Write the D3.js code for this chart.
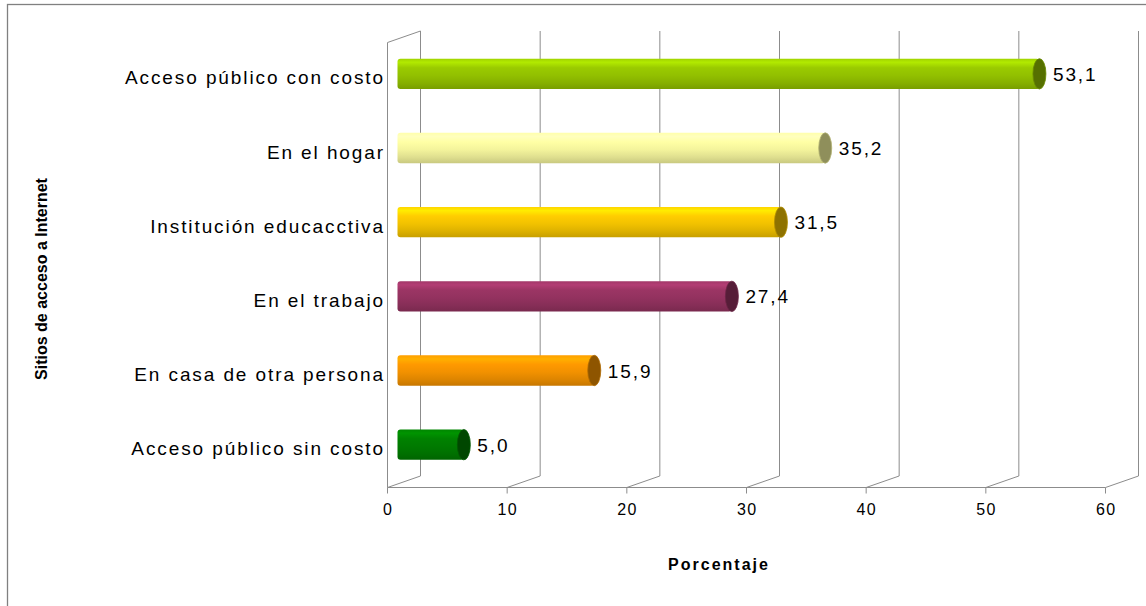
<!DOCTYPE html>
<html>
<head>
<meta charset="utf-8">
<script src="https://cdn.jsdelivr.net/npm/d3@7"></script>
<style>
  body { margin: 0; background: #fff; }
  text { font-family: "Liberation Sans", Arial, sans-serif; }
</style>
</head>
<body>
<div id="chart"></div>
<script>
// Data
const categories = ["Acceso público con costo", "En el hogar", "Institución educacctiva",
    "En el trabajo", "En casa de otra persona", "Acceso público sin costo"];
const values = [53.1, 35.2, 31.5, 27.4, 15.9, 5.0];
const ticks = [0, 10, 20, 30, 40, 50, 60];

// Bar colours
const palette = ["#92c000", "#f4f49c", "#f2c200", "#93325f", "#f29100", "#007a00"];

const width = 1146,
    height = 606;

// 3D depth offset
const dx = 33,
    dy = -11.5;

const svg = d3.select("#chart")
    .append("svg")
    .attr("width", width)
    .attr("height", height);

// outer frame
svg.append("rect")
    .attr("x", 7.5).attr("y", 4.5)
    .attr("width", 1150).attr("height", 620)
    .attr("fill", "none")
    .attr("stroke", "#808080")
    .attr("stroke-width", 1.3);

const x = d3.scaleLinear()
    .domain([0, 60])
    .range([387.5, 1105.5]);

const y = d3.scaleBand()
    .domain(categories)
    .range([42.5, 487.5])
    .padding(0);

const floorY = y.range()[1];
const topY = y.range()[0];
const grid = "#8c8c8c";

const walls = svg.append("g")
    .attr("fill", "none")
    .attr("stroke", grid)
    .attr("stroke-width", 1);

// back wall gridlines
walls.selectAll(".back")
    .data(ticks)
    .enter()
    .append("line")
    .attr("x1", d => x(d) + dx).attr("x2", d => x(d) + dx)
    .attr("y1", topY + dy).attr("y2", floorY + dy);

// floor diagonals
walls.selectAll(".diag")
    .data(ticks)
    .enter()
    .append("line")
    .attr("x1", d => x(d)).attr("x2", d => x(d) + dx)
    .attr("y1", floorY).attr("y2", floorY + dy);

// left side wall
walls.append("path")
    .attr("d", "M" + x(0) + "," + floorY + "V" + topY + "L" + (x(0) + dx) + "," + (topY + dy));

// front floor edge
walls.append("line")
    .attr("x1", x(0)).attr("x2", x(60))
    .attr("y1", floorY).attr("y2", floorY);

// tick marks
walls.selectAll(".tick")
    .data(ticks)
    .enter()
    .append("line")
    .attr("x1", d => x(d)).attr("x2", d => x(d))
    .attr("y1", floorY).attr("y2", floorY + 6);

svg.selectAll(".ticklabel")
    .data(ticks)
    .enter()
    .append("text")
    .attr("x", d => x(d) + 0.7)
    .attr("y", floorY + 27)
    .attr("text-anchor", "middle")
    .style("font-size", "16px")
    .style("letter-spacing", "1.4px")
    .text(d => d);

// gradients
const defs = svg.append("defs");
palette.forEach(function (c, i) {
    const g = defs.append("linearGradient")
        .attr("id", "grad" + i)
        .attr("x1", 0).attr("y1", 0).attr("x2", 0).attr("y2", 1);
    const base = d3.color(c);
    const stops = [
        [0, base.brighter(0.25)],
        [0.12, base.brighter(0.55)],
        [0.3, base.brighter(0.15)],
        [0.55, base],
        [0.8, base.darker(0.25)],
        [1, base.darker(0.55)]
    ];
    stops.forEach(s => g.append("stop").attr("offset", s[0]).attr("stop-color", s[1].formatHex()));
});

const bw = y.bandwidth();
const r = bw * 0.205;
const capRx = 6.5;

const bars = svg.selectAll(".bar")
    .data(categories)
    .enter()
    .append("g");

// cylinder body
bars.append("rect")
    .attr("x", d => x(0) + dx / 2 - capRx)
    .attr("y", d => y(d) + bw / 2 + dy / 2 - r)
    .attr("width", (d, i) => x(values[i]) - x(0) + capRx)
    .attr("height", r * 2)
    .attr("rx", 3)
    .attr("fill", (d, i) => "url(#grad" + i + ")");

// end cap
bars.append("ellipse")
    .attr("cx", (d, i) => x(values[i]) + dx / 2)
    .attr("cy", d => y(d) + bw / 2 + dy / 2)
    .attr("rx", capRx)
    .attr("ry", r)
    .attr("fill", (d, i) => d3.color(palette[i]).darker(1.5).formatHex())
    .attr("stroke", (d, i) => d3.color(palette[i]).darker(0.9).formatHex())
    .attr("stroke-width", 0.8);

// value labels
bars.append("text")
    .attr("x", (d, i) => x(values[i]) + dx / 2 + capRx + 7)
    .attr("y", d => y(d) + bw / 2 + dy / 2)
    .attr("dy", "0.37em")
    .style("font-size", "19px")
    .style("letter-spacing", "1.9px")
    .text((d, i) => values[i].toFixed(1).replace(".", ","));

// category labels
svg.selectAll(".cat")
    .data(categories)
    .enter()
    .append("text")
    .attr("x", 385)
    .attr("y", d => y(d) + bw / 2 + dy / 2 + 3.5)
    .attr("dy", "0.37em")
    .attr("text-anchor", "end")
    .style("font-size", "19px")
    .style("letter-spacing", "1.9px")
    .text(d => d);

// axis titles
svg.append("text")
    .attr("x", 719)
    .attr("y", 570)
    .attr("text-anchor", "middle")
    .style("font-size", "16px")
    .style("font-weight", "bold")
    .style("letter-spacing", "2px")
    .text("Porcentaje");

svg.append("text")
    .attr("transform", "translate(47,279) rotate(-90)")
    .attr("text-anchor", "middle")
    .style("font-size", "16px")
    .style("font-weight", "bold")
    .style("letter-spacing", "0px")
    .text("Sitios de acceso a Internet");
</script>
</body>
</html>
